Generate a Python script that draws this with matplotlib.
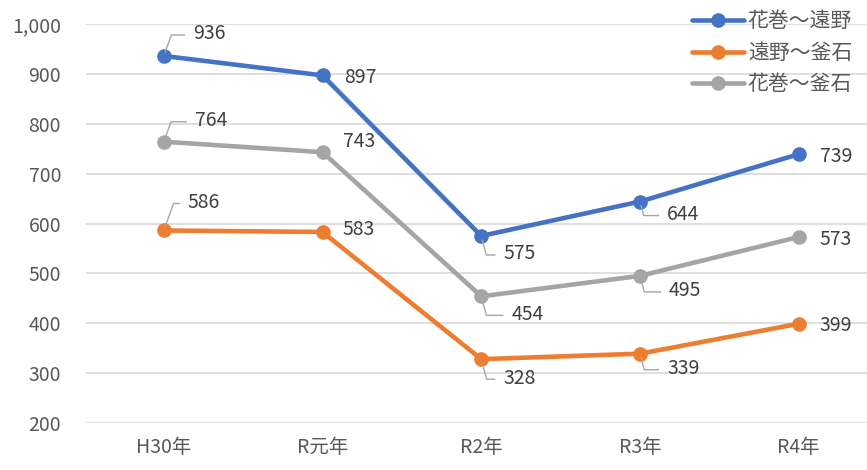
import matplotlib
matplotlib.use("Agg")
import matplotlib.pyplot as plt
from matplotlib.ticker import FuncFormatter

plt.rcParams['font.family'] = ['Noto Sans CJK JP', 'DejaVu Sans']

# data
years = ["H30年", "R元年", "R2年", "R3年", "R4年"]
series_names = ["花巻〜遠野", "遠野〜釜石", "花巻〜釜石"]
hanamaki_tono = [936, 897, 575, 644, 739]
tono_kamaishi = [586, 583, 328, 339, 399]
hanamaki_kamaishi = [764, 743, 454, 495, 573]

colors = ["#4472C4", "#ED7D31", "#A5A5A5"]

# label offsets in pixels (dx, dy with dy downward), leader line yes/no
offsets = [
    [(29, -24, True), (22, 0, False), (22, 16, True), (27, 11, True), (21, 0, False)],
    [(24, -30, True), (20, -4, False), (22, 17, True), (27, 13, True), (21, 0, False)],
    [(31, -23, True), (20, -13, False), (30, 16, True), (29, 13, True), (21, 1, False)],
]

fig = plt.figure(figsize=(8.67, 4.7), dpi=100)
ax = fig.add_axes([86 / 867, 47 / 470, 1 - 86 / 867, (423 - 24) / 470])

x = list(range(len(years)))
all_series = [hanamaki_tono, tono_kamaishi, hanamaki_kamaishi]
for vals, name, col, offs in zip(all_series, series_names, colors, offsets):
    ax.plot(x, vals, color=col, lw=3.3, marker="o", markersize=9.5,
            label=name, solid_capstyle="round", zorder=3)
    for xi, v, (dx, dy, lead) in zip(x, vals, offs):
        kw = {}
        if lead:
            angle = 70 if dy < 0 else -75
            kw["arrowprops"] = dict(arrowstyle="-", color="#A6A6A6", lw=1.0,
                                    connectionstyle="angle,angleA=0,angleB=%d" % angle,
                                    relpos=(0, 0.45), shrinkA=4, shrinkB=3)
        ax.annotate(str(v), xy=(xi, v), xytext=(dx, -dy - 2), textcoords="offset pixels",
                    ha="left", va="center", fontsize=14, color="#404040",
                    zorder=4, **kw)

ax.set_ylim(200, 1000)
ax.set_xlim(-0.49, 4.43)
ax.set_yticks(range(200, 1001, 100))
ax.yaxis.set_major_formatter(FuncFormatter(lambda v, p: f"{int(v):,}"))
ax.set_xticks(x)
ax.set_xticklabels(years)
ax.grid(axis="y", color="#D9D9D9", lw=1.2)
ax.set_axisbelow(True)
for s in ax.spines.values():
    s.set_visible(False)
ax.tick_params(axis="y", length=0, pad=18, labelsize=14, labelcolor="#595959")
ax.tick_params(axis="x", length=0, pad=10, labelsize=14, labelcolor="#595959")

ax.legend(loc="upper right", bbox_to_anchor=(0.995, 1.0), bbox_transform=fig.transFigure,
          frameon=False, fontsize=15, handlelength=2.5, handletextpad=0.2,
          labelspacing=0.45, borderaxespad=0.1, labelcolor="#595959")

fig.savefig("out.png", dpi=100)
